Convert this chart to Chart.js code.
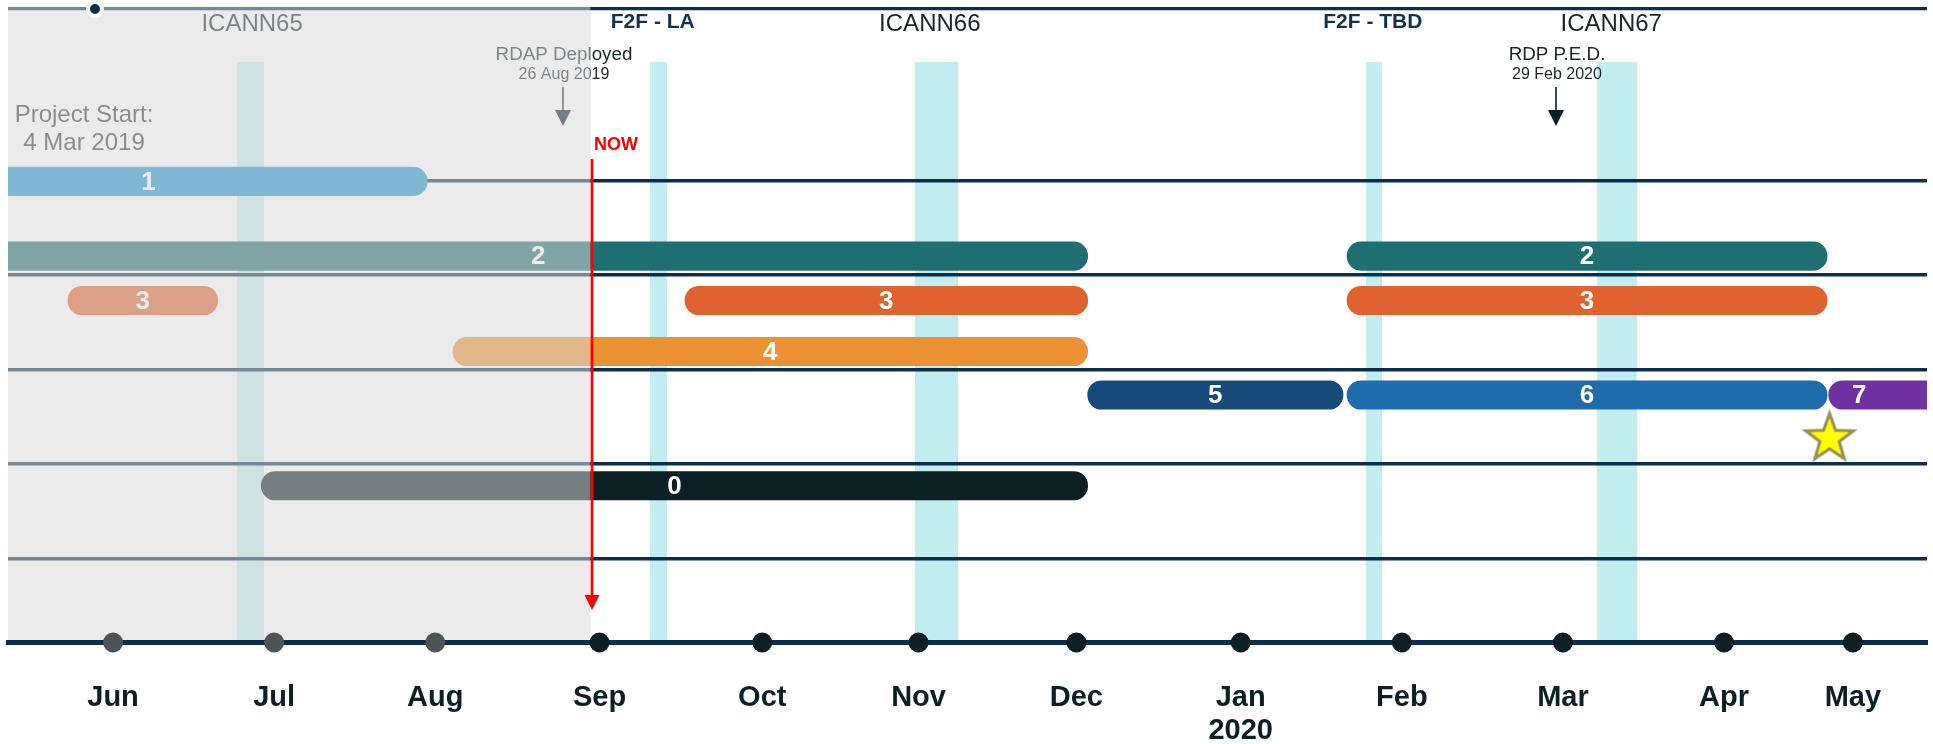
<!DOCTYPE html>
<html>
<head>
<meta charset="utf-8">
<script src="https://cdn.jsdelivr.net/npm/chart.js@4.4.1/dist/chart.umd.min.js"></script>
<style>
html,body{margin:0;padding:0;background:#fff;overflow:hidden}
#wrap{width:1933px;height:744px;position:relative}
</style>
</head>
<body>
<div id="wrap"><canvas id="c"></canvas></div>
<script>
// ---- DATA (x in months counted from June 2019, y in swim-lane units) ----
const monthLabels = ['Jun','Jul','Aug','Sep','Oct','Nov','Dec',['Jan','2020'],'Feb','Mar','Apr','May'];
const monthPos    = [0, 1, 2, 3.02, 4.03, 5, 5.98, 7, 8, 9, 10, 10.8];

const barNames   = ['1', '2', '2', '3', '3', '3', '4', '5', '6', '7', '0'];
const barLanes   = [2.01, 2.8, 2.8, 3.27, 3.27, 3.27, 3.81, 4.27, 4.27, 4.27, 5.23];
const barStarts  = [-2.9, -2.9, 7.66, -0.28, 3.55, 7.66, 2.11, 6.05, 7.66, 10.65, 0.92];
const barEnds    = [1.95, 6.05, 10.64, 0.65, 6.05, 10.64, 6.05, 7.635, 10.64, 12.5, 6.05];
const barLabelAt = [0.22, 2.64, null, null, null, null, null, null, null, 10.84, null];

const eventNames   = ['ICANN65', 'F2F - LA', 'ICANN66', 'F2F - TBD', 'ICANN67'];
const eventKinds   = ['icann', 'f2f', 'icann', 'f2f', 'icann'];
const eventFrom    = [0.77, 3.333, 4.978, 7.778, 9.212];
const eventTo      = [0.937, 3.439, 5.245, 7.877, 9.46];
const eventLabelAt = [0.863, 3.35, 5.07, 7.82, 9.30];

const milestoneTitles = ['RDAP Deployed', 'RDP P.E.D.'];
const milestoneDates  = ['26 Aug 2019', '29 Feb 2020'];
const milestoneAt     = [2.793, 8.957];

const projectStartText = ['Project Start:', '4 Mar 2019'];
const projectStartAt   = -0.18;
const nowAt   = 2.973;
const starAt  = {x: 10.655, y: 4.73};
const topDotAt = {x: -0.112, y: 0.185};
const rowLines = [2, 3, 4, 5, 6];

const X_MIN = -0.652, X_MAX = 11.26, Y_MIN = 0.18, Y_MAX = 6.889;

// ---- STYLE ----
const FONT = '"Liberation Sans", Arial, sans-serif';
const barColors = ['#2195d4', '#1f6e72', '#1f6e72', '#e0622e', '#e0622e', '#e0622e',
                   '#ec9232', '#164a7a', '#1e6cac', '#7131a1', '#0b1f24'];
const dotColors = monthPos.map((m) => m < nowAt ? '#4d5458' : '#0b1f24');
const NAVY = '#0c2e4b';

function makeStar() {
  const c = document.createElement('canvas');
  c.width = 70; c.height = 70;
  const g = c.getContext('2d');
  const cx = 35, cy = 35, R = 25, r = 10.2;
  g.beginPath();
  for (let i = 0; i < 10; i++) {
    const rad = i % 2 ? r : R;
    const a = -Math.PI / 2 + i * Math.PI / 5;
    g.lineTo(cx + rad * Math.cos(a), cy + rad * Math.sin(a));
  }
  g.closePath();
  g.fillStyle = '#ffff00';
  g.fill();
  g.lineWidth = 3;
  g.lineJoin = 'miter';
  g.miterLimit = 10;
  g.strokeStyle = '#9a8c57';
  g.stroke();
  return c;
}

function arrowDown(ctx, x, y0, y1, color, headLen, halfW, lw) {
  ctx.strokeStyle = color;
  ctx.fillStyle = color;
  ctx.lineWidth = lw;
  ctx.beginPath();
  ctx.moveTo(x, y0);
  ctx.lineTo(x, y1 - headLen + 1);
  ctx.stroke();
  ctx.beginPath();
  ctx.moveTo(x - halfW, y1 - headLen);
  ctx.lineTo(x + halfW, y1 - headLen);
  ctx.lineTo(x, y1);
  ctx.closePath();
  ctx.fill();
}

const timelinePlugin = {
  id: 'timeline',
  beforeDraw(chart) {
    const {ctx, chartArea, scales: {x, y}} = chart;
    ctx.save();
    ctx.fillStyle = '#c2edf0';
    const top = y.getPixelForValue(0.746);
    const bottom = chartArea.bottom - 2.5;
    eventFrom.forEach((f, i) => {
      const a = x.getPixelForValue(f), b = x.getPixelForValue(eventTo[i]);
      ctx.fillRect(a, top, b - a, bottom - top);
    });
    ctx.restore();
  },
  afterDatasetDraw(chart, args) {
    if (args.index !== 0) return;
    const {ctx, chartArea, scales: {x, y}} = chart;
    ctx.save();
    // bar labels
    ctx.fillStyle = '#ffffff';
    ctx.font = 'bold 26px ' + FONT;
    ctx.textAlign = 'center';
    ctx.textBaseline = 'middle';
    barNames.forEach((n, i) => {
      const at = barLabelAt[i] !== null ? barLabelAt[i] : (barStarts[i] + barEnds[i]) / 2;
      ctx.fillText(n, x.getPixelForValue(at), y.getPixelForValue(barLanes[i]) + 1);
    });
    // event labels
    eventNames.forEach((n, i) => {
      if (eventKinds[i] === 'f2f') {
        ctx.font = 'bold 21px ' + FONT;
        ctx.fillStyle = '#12324f';
        ctx.fillText(n, x.getPixelForValue(eventLabelAt[i]), y.getPixelForValue(0.323));
      } else {
        ctx.font = '24px ' + FONT;
        ctx.fillStyle = '#1b2428';
        ctx.fillText(n, x.getPixelForValue(eventLabelAt[i]), y.getPixelForValue(0.344));
      }
    });
    // milestones
    milestoneTitles.forEach((t, i) => {
      const px = x.getPixelForValue(milestoneAt[i]);
      ctx.fillStyle = '#1b2428';
      ctx.font = '18.8px ' + FONT;
      ctx.fillText(t, px + 1, y.getPixelForValue(0.672));
      ctx.font = '16px ' + FONT;
      ctx.fillText(milestoneDates[i], px + 1, y.getPixelForValue(0.884));
      arrowDown(ctx, px, y.getPixelForValue(1.011), y.getPixelForValue(1.423), '#0b1f24', 16, 8, 1.6);
    });
    // project start
    ctx.fillStyle = '#3a3a3a';
    ctx.font = '24px ' + FONT;
    ctx.fillText(projectStartText[0], x.getPixelForValue(projectStartAt), y.getPixelForValue(1.315));
    ctx.fillText(projectStartText[1], x.getPixelForValue(projectStartAt), y.getPixelForValue(1.605));
    // "past" overlay
    const xl = chartArea.left, xr = x.getPixelForValue(nowAt) - 1.5;
    ctx.fillStyle = 'rgba(216,216,216,0.52)';
    ctx.fillRect(xl, chartArea.top - 2, xr - xl, chartArea.bottom - 2.5 - (chartArea.top - 2));
    ctx.restore();
  },
  afterDatasetsDraw(chart) {
    const {ctx, scales: {x, y}} = chart;
    const px = x.getPixelForValue(nowAt);
    ctx.save();
    arrowDown(ctx, px, y.getPixelForValue(1.773), y.getPixelForValue(6.546), '#ff0000', 15, 7.5, 2.6);
    ctx.fillStyle = '#ff0000';
    ctx.font = 'bold 18px ' + FONT;
    ctx.textAlign = 'left';
    ctx.textBaseline = 'middle';
    ctx.fillText('NOW', px + 2, y.getPixelForValue(1.625));
    ctx.restore();
  }
};

const starImg = makeStar();

new Chart(document.getElementById('c'), {
  type: 'bar',
  data: {
    datasets: [
      {
        type: 'bar',
        indexAxis: 'y',
        order: 10,
        data: barStarts.map((s, i) => ({x: [s, barEnds[i]], y: barLanes[i]})),
        backgroundColor: barColors,
        barThickness: 28.5,
        borderRadius: 14.25,
        borderSkipped: false,
        borderWidth: 0,
        grouped: false
      },
      {
        type: 'scatter',
        order: 1,
        data: monthPos.map((m) => ({x: m, y: Y_MAX})),
        pointRadius: 10,
        pointBackgroundColor: dotColors,
        pointBorderWidth: 0,
        clip: false
      },
      {
        type: 'scatter',
        order: 0,
        data: [starAt],
        pointStyle: starImg,
        pointRadius: 30,
        clip: false
      },
      {
        type: 'scatter',
        order: 0,
        data: [topDotAt],
        pointRadius: 7,
        pointBackgroundColor: NAVY,
        pointBorderColor: '#ffffff',
        pointBorderWidth: 4,
        clip: false
      }
    ]
  },
  options: {
    responsive: true,
    maintainAspectRatio: false,
    animation: false,
    events: [],
    layout: {autoPadding: false, padding: {left: 8, right: 6, top: 8.5, bottom: 0}},
    plugins: {legend: {display: false}, tooltip: {enabled: false}},
    scales: {
      x: {
        type: 'linear',
        min: X_MIN,
        max: X_MAX,
        offset: false,
        grid: {display: false, drawTicks: false, offset: false},
        border: {display: true, color: NAVY, width: 5},
        afterBuildTicks: (s) => { s.ticks = monthPos.map((v) => ({value: v})); },
        afterFit: (s) => { s.height = 101.5; },
        ticks: {
          autoSkip: false,
          maxRotation: 0,
          minRotation: 0,
          padding: 39,
          color: '#0b1f24',
          font: {family: FONT, size: 29, weight: 'bold', lineHeight: 1.14},
          callback: (v, i) => monthLabels[i]
        }
      },
      y: {
        type: 'linear',
        min: Y_MIN,
        max: Y_MAX,
        reverse: true,
        offset: false,
        border: {display: false},
        grid: {
          display: true,
          drawTicks: false,
          offset: false,
          color: NAVY,
          lineWidth: (c) => (c.tick && c.tick.value < 1) ? 3.3 : 3.6
        },
        afterBuildTicks: (s) => { s.ticks = [Y_MIN].concat(rowLines).map((v) => ({value: v})); },
        afterFit: (s) => { s.width = 0; },
        ticks: {display: false}
      }
    }
  },
  plugins: [timelinePlugin]
});
</script>
</body>
</html>
